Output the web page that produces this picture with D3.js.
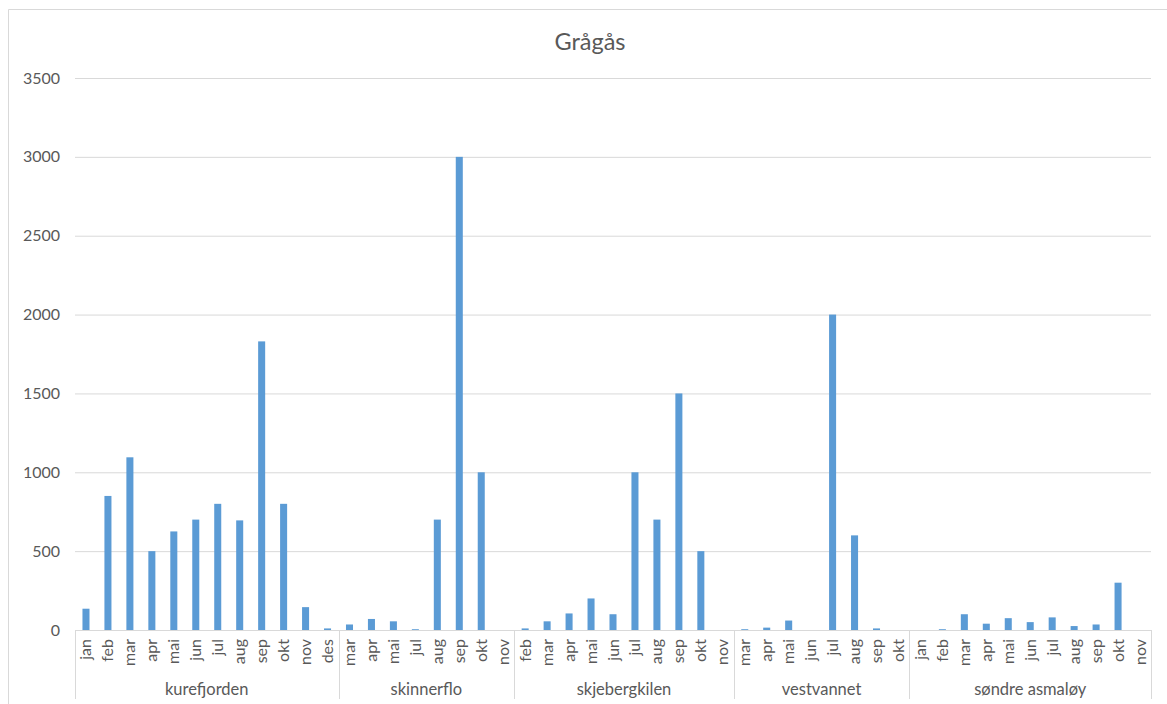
<!DOCTYPE html>
<html><head><meta charset="utf-8">
<script src="https://cdn.jsdelivr.net/npm/d3@7"></script>
<style>body{margin:0;background:#fff;} text{font-family:Lato,"Liberation Sans",sans-serif;fill:#595959;}</style>
</head><body>
<svg id="c" width="1167" height="704"></svg>
<script>
const title = "Grågås";
const groups = ["kurefjorden","skinnerflo","skjebergkilen","vestvannet","søndre asmaløy"];
const months = [
  ["jan","feb","mar","apr","mai","jun","jul","aug","sep","okt","nov","des"],
  ["mar","apr","mai","jul","aug","sep","okt","nov"],
  ["feb","mar","apr","mai","jun","jul","aug","sep","okt","nov"],
  ["mar","apr","mai","jun","jul","aug","sep","okt"],
  ["jan","feb","mar","apr","mai","jun","jul","aug","sep","okt","nov"]
];
const values = [
  [135,850,1095,500,625,700,800,695,1830,800,145,10],
  [35,70,55,5,700,3000,1000,0],
  [10,55,105,200,100,1000,700,1500,500,0],
  [5,15,60,0,2000,600,10,0],
  [0,5,100,40,75,50,80,25,35,300,0]
];
const yTicks = [0,500,1000,1500,2000,2500,3000,3500];

const rows = [];
groups.forEach((g,gi)=>months[gi].forEach((m,mi)=>rows.push({g,gi,m,v:values[gi][mi],key:g+"|"+m})));

const svg = d3.select("#c");
const pL=75, pR=1151, pT=78, pB=630;
const x = d3.scaleBand().domain(rows.map(d=>d.key)).range([pL,pR]).paddingInner(0.68).paddingOuter(0.34);
const y = d3.scaleLinear().domain([0,3500]).range([pB,pT]);

// chart frame
svg.append("path").attr("d","M8.5,704 V9.5 H1167").attr("fill","none").attr("stroke","#d9d9d9");

// title
svg.append("text").attr("x",590).attr("y",50).attr("text-anchor","middle").attr("font-size",23.5).text(title);

// gridlines + y labels
const ya = svg.append("g").attr("transform",`translate(${pL},0)`)
  .call(d3.axisLeft(y).tickValues(yTicks).tickSize(-(pR-pL)).tickPadding(15).tickFormat(d3.format("d")));
ya.select(".domain").remove();
ya.selectAll(".tick line").attr("stroke","#d9d9d9");
ya.selectAll(".tick text").attr("font-size",16).style("fill","#595959").attr("font-family","Lato, sans-serif");
ya.selectAll(".tick").filter(d=>d===0).select("line").remove();

// bars
svg.append("g").selectAll("rect").data(rows).join("rect")
  .attr("x",d=>x(d.key)).attr("width",x.bandwidth())
  .attr("y",d=>y(d.v)).attr("height",d=>y(0)-y(d.v)).attr("fill","#5b9bd5");

// category axis
const step = x.step();
const xa = svg.append("g");
xa.append("line").attr("x1",pL).attr("x2",pR).attr("y1",pB+0.5).attr("y2",pB+0.5).attr("stroke","#d9d9d9");
xa.selectAll("text.m").data(rows).join("text").attr("class","m")
  .attr("transform",d=>`translate(${x(d.key)+x.bandwidth()/2+5.5},${pB+9}) rotate(-90)`)
  .attr("text-anchor","end").attr("font-size",16).text(d=>d.m);
// group separators & labels
let acc = pL;
const bounds=[pL];
groups.forEach((g,gi)=>{ acc += months[gi].length*step; bounds.push(acc); });
xa.selectAll("line.sep").data(bounds).join("line").attr("class","sep")
  .attr("x1",d=>Math.round(d)+0.5).attr("x2",d=>Math.round(d)+0.5).attr("y1",pB).attr("y2",699)
  .attr("stroke","#d9d9d9");
xa.selectAll("text.g").data(groups).join("text").attr("class","g")
  .attr("x",(d,i)=>(bounds[i]+bounds[i+1])/2).attr("y",695).attr("text-anchor","middle").attr("font-size",16.5).text(d=>d);
</script>
</body></html>
